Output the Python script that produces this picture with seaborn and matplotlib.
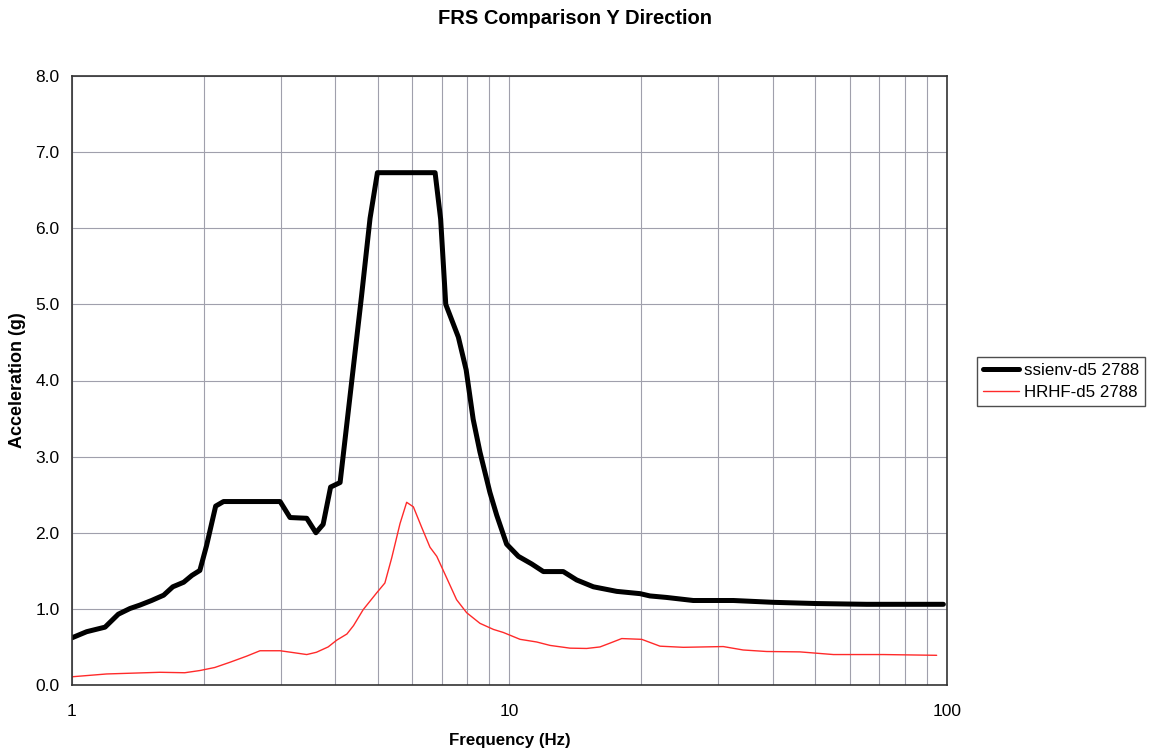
import matplotlib
matplotlib.use("Agg")
import matplotlib.pyplot as plt
import seaborn as sns
import numpy as np
import pandas as pd
from matplotlib.ticker import FixedLocator, LogLocator, NullFormatter, FuncFormatter
from matplotlib.lines import Line2D

# ---- data ----
black_freq = [1.0, 1.08, 1.19, 1.276, 1.357, 1.43, 1.52, 1.62, 1.70, 1.80, 1.88, 1.96,
              2.03, 2.13, 2.22, 2.99, 3.15, 3.44, 3.61, 3.75, 3.90, 4.10, 4.59, 4.80,
              4.99, 6.76, 6.96, 7.15, 7.64, 7.96, 8.26, 8.56, 9.02, 9.35, 9.85, 10.48,
              11.24, 11.95, 13.27, 14.24, 15.55, 17.58, 19.88, 20.94, 22.87, 26.3, 32.5,
              40.1, 50.4, 65.5, 98.1]
black_acc = [0.62, 0.70, 0.76, 0.93, 1.005, 1.05, 1.11, 1.18, 1.29, 1.35, 1.44, 1.505,
             1.83, 2.35, 2.41, 2.41, 2.20, 2.19, 2.00, 2.11, 2.60, 2.66, 5.11, 6.13,
             6.73, 6.73, 6.12, 5.00, 4.57, 4.14, 3.49, 3.06, 2.53, 2.23, 1.85, 1.69,
             1.59, 1.49, 1.49, 1.38, 1.29, 1.23, 1.20, 1.17, 1.15, 1.11, 1.11,
             1.086, 1.07, 1.06, 1.06]

red_freq = [1.0, 1.2, 1.59, 1.81, 1.96, 2.12, 2.30, 2.51, 2.69, 2.99, 3.21, 3.44, 3.62,
            3.85, 4.03, 4.25, 4.40, 4.63, 4.97, 5.19, 5.38, 5.62, 5.82, 6.03, 6.30,
            6.58, 6.82, 7.18, 7.57, 7.98, 8.56, 9.19, 9.68, 10.57, 11.54, 12.38, 13.75,
            15.01, 16.1, 16.97, 18.05, 20.05, 22.08, 24.97, 30.8, 34.2, 38.7, 46.1,
            55.0, 71.5, 94.7]
red_acc = [0.108, 0.145, 0.167, 0.161, 0.19, 0.23, 0.30, 0.38, 0.45, 0.45, 0.425, 0.40,
           0.43, 0.50, 0.59, 0.67, 0.78, 0.99, 1.21, 1.34, 1.67, 2.12, 2.40, 2.34, 2.07,
           1.81, 1.69, 1.41, 1.12, 0.95, 0.81, 0.73, 0.69, 0.60, 0.565, 0.52, 0.484,
           0.48, 0.50, 0.55, 0.61, 0.60, 0.51, 0.495, 0.505, 0.46, 0.44, 0.435,
           0.40, 0.40, 0.39]

series_names = ["ssienv-d5 2788", "HRHF-d5 2788"]
y_ticks = [0.0, 1.0, 2.0, 3.0, 4.0, 5.0, 6.0, 7.0, 8.0]
x_ticks = [1, 10, 100]

df = pd.concat([
    pd.DataFrame({"Frequency": black_freq, "Acceleration": black_acc, "Series": series_names[0]}),
    pd.DataFrame({"Frequency": red_freq, "Acceleration": red_acc, "Series": series_names[1]}),
], ignore_index=True)

sns.set_style("white")
plt.rcParams['font.family'] = ['Liberation Sans', 'DejaVu Sans']
plt.rcParams['text.color'] = 'black'
plt.rcParams['axes.labelcolor'] = 'black'
plt.rcParams['xtick.color'] = 'black'
plt.rcParams['ytick.color'] = 'black'

fig = plt.figure(figsize=(11.49, 7.53), dpi=100)
ax = fig.add_axes([72/1149, 1-685/753, (947-72)/1149, (685-76)/753])

sns.lineplot(data=df, x="Frequency", y="Acceleration", hue="Series", size="Series",
             sizes={series_names[0]: 3.6, series_names[1]: 1.0},
             palette={series_names[0]: "black", series_names[1]: "#ff2a2a"},
             sort=False, estimator=None, ax=ax, legend=False)

ax.set_xscale("log")
ax.set_xlim(1, 100)
ax.set_ylim(0, 8)
ax.xaxis.set_major_locator(FixedLocator(x_ticks))
ax.xaxis.set_major_formatter(FuncFormatter(lambda v, p: f"{v:g}"))
ax.xaxis.set_minor_locator(LogLocator(base=10, subs=np.arange(2, 10)))
ax.xaxis.set_minor_formatter(NullFormatter())
ax.yaxis.set_major_locator(FixedLocator(y_ticks))
ax.yaxis.set_major_formatter(FuncFormatter(lambda v, p: f"{v:.1f}"))

ax.grid(True, which="major", axis="both", color="#a0a0ac", linewidth=0.8)
ax.grid(True, which="minor", axis="x", color="#a0a0ac", linewidth=0.8)
ax.set_axisbelow(True)
for s in ax.spines.values():
    s.set_color("#333333")
    s.set_linewidth(1.2)

ax.tick_params(axis="both", which="major", direction="out", length=5, width=1,
               color="#333333", labelsize=12.5)
ax.tick_params(axis="y", pad=4)
ax.tick_params(axis="x", pad=9)
ax.tick_params(axis="x", which="minor", length=0)

ax.set_xlabel("Frequency (Hz)", fontsize=12.2, fontweight="bold", labelpad=10)
ax.set_ylabel("Acceleration (g)", fontsize=13, fontweight="bold", labelpad=7)
fig.text(0.5, 1 - 18/753, "FRS Comparison Y Direction",
         ha="center", va="center", fontsize=14.5, fontweight="bold")

handles = [Line2D([], [], color="black", lw=3.6), Line2D([], [], color="#ff2a2a", lw=1.0)]
leg = fig.legend(handles, series_names, loc="upper left",
                 bbox_to_anchor=(977/1149, 1-357/753), frameon=True, fancybox=False,
                 fontsize=12.2, handlelength=2.1, borderpad=0.35, labelspacing=0.4,
                 handletextpad=0.3, borderaxespad=0)
leg.get_frame().set_edgecolor("#222222")
leg.get_frame().set_linewidth(1.0)

fig.savefig("out.png", dpi=100)
